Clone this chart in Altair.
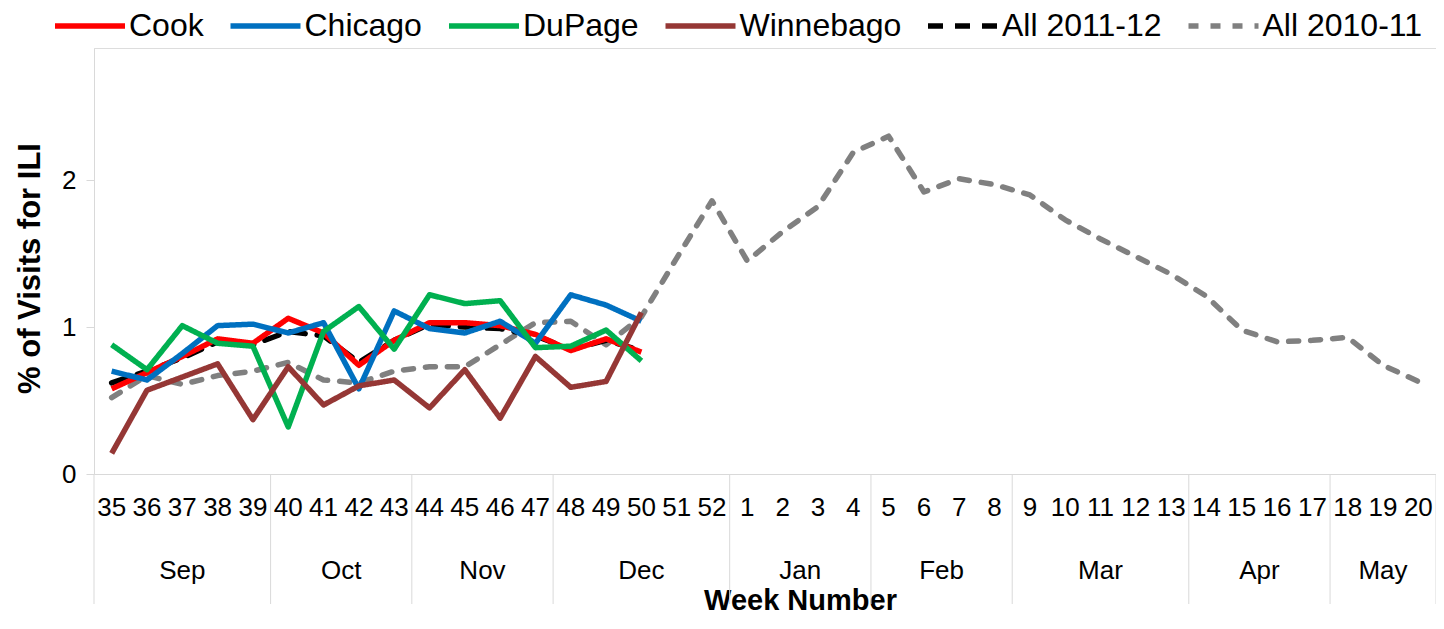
import altair as alt
import pandas as pd

# ---------------- data ----------------
weeks = ["35", "36", "37", "38", "39", "40", "41", "42", "43", "44", "45", "46", "47",
         "48", "49", "50", "51", "52", "1", "2", "3", "4", "5", "6", "7", "8", "9",
         "10", "11", "12", "13", "14", "15", "16", "17", "18", "19", "20"]
months = ["Sep", "Oct", "Nov", "Dec", "Jan", "Feb", "Mar", "Apr", "May"]
month_weeks = [5, 4, 4, 5, 4, 4, 5, 4, 3]

series_names = ["Cook", "Chicago", "DuPage", "Winnebago", "All 2011-12", "All 2010-11"]
series_colors = ["#FF0000", "#0070C0", "#00B050", "#953735", "#000000", "#808080"]

cook = [0.58, 0.69, 0.80, 0.92, 0.89, 1.06, 0.96, 0.74, 0.91, 1.03, 1.03, 1.01, 0.95, 0.84, 0.92, 0.83]
chicago = [0.70, 0.64, 0.82, 1.01, 1.02, 0.96, 1.03, 0.58, 1.11, 0.99, 0.96, 1.04, 0.89, 1.22, 1.15, 1.04]
dupage = [0.88, 0.71, 1.01, 0.89, 0.87, 0.32, 0.97, 1.14, 0.85, 1.22, 1.16, 1.18, 0.86, 0.87, 0.98, 0.77]
winnebago = [0.14, 0.57, 0.66, 0.75, 0.37, 0.73, 0.47, 0.60, 0.64, 0.45, 0.71, 0.38, 0.80, 0.59, 0.63, 1.10]
all_2011_12 = [0.62, 0.70, 0.79, 0.90, 0.88, 0.97, 0.94, 0.76, 0.91, 1.02, 1.00, 0.99, 0.94, 0.85, 0.91, 0.84]
all_2010_11 = [0.52, 0.67, 0.61, 0.67, 0.70, 0.76, 0.64, 0.62, 0.70, 0.73, 0.73, 0.88, 1.03, 1.04, 0.88, 1.07,
               1.47, 1.86, 1.45, 1.65, 1.82, 2.19, 2.30, 1.92, 2.01, 1.97, 1.90, 1.73, 1.60, 1.48, 1.36,
               1.21, 0.98, 0.90, 0.91, 0.93, 0.74, 0.63]

series_values = {
    "Cook": cook,
    "Chicago": chicago,
    "DuPage": dupage,
    "Winnebago": winnebago,
    "All 2011-12": all_2011_12,
    "All 2010-11": all_2010_11,
}

# ---------------- tables ----------------
rows = []
for name, vals in series_values.items():
    for i, v in enumerate(vals):
        rows.append({"series": name, "idx": i, "week": weeks[i], "value": v})
df = pd.DataFrame(rows)

wdf = pd.DataFrame({"idx": list(range(len(weeks))), "week": weeks})

mrows = []
bounds = []
start = 0
for m, n in zip(months, month_weeks):
    mrows.append({"month": m, "center": start + (n - 1) / 2})
    bounds.append(start - 0.5)
    start += n
bounds.append(start - 0.5)
mdf = pd.DataFrame(mrows)
bdf = pd.DataFrame({"b": bounds})

# ---------------- styling ----------------
W, H = 1342, 426
FONT = "Liberation Sans"
GRID = "#d9d9d9"
dash_map = {"Cook": [1, 0], "Chicago": [1, 0], "DuPage": [1, 0], "Winnebago": [1, 0],
            "All 2011-12": [15, 12], "All 2010-11": [10, 12]}

x_scale = alt.Scale(domain=[-0.5, len(weeks) - 0.5], nice=False, zero=False)
x_axis = alt.Axis(
    values=list(range(len(weeks))), labels=False, ticks=False, grid=False,
    domainColor=GRID, domainWidth=1,
    title="Week Number", titleFont=FONT, titleFontSize=29, titleFontWeight="bold",
    titleColor="black", titlePadding=112, titleX=706, titleAlign="center",
)


def xenc(field):
    return alt.X(field, scale=x_scale, axis=x_axis, title="Week Number")


y_main = alt.Y(
    "value:Q",
    scale=alt.Scale(domain=[0, 2.9], nice=False),
    axis=alt.Axis(
        values=[0, 1, 2], tickSize=8, tickColor=GRID, domainColor=GRID, grid=False,
        labelFontSize=26, labelFont=FONT, labelColor="black", labelPadding=10,
        title="% of Visits for ILI", titleFont=FONT, titleFontSize=31, titleFontWeight="bold",
        titleColor="black", titleX=-64, titleY=220, titleAlign="center", titleBaseline="middle",
    ),
)

legend = alt.Legend(
    orient="none", legendX=-42, legendY=-60, direction="horizontal", columns=6, title=None,
    symbolType="stroke", symbolSize=4900, symbolStrokeWidth=5.5, labelFontSize=32, labelFont=FONT,
    labelColor="black", labelOffset=1, columnPadding=15.5, padding=0, labelLimit=0,
)
color_enc = alt.Color("series:N", scale=alt.Scale(domain=series_names, range=series_colors), legend=legend)
dash_enc = alt.StrokeDash("series:N",
                          scale=alt.Scale(domain=series_names, range=[dash_map[s] for s in series_names]),
                          legend=legend)

base = alt.Chart(df)
draw_order = ["All 2010-11", "All 2011-12", "Cook", "Chicago", "DuPage", "Winnebago"]
line_layers = []
for name in draw_order:
    dashed = name.startswith("All")
    line_layers.append(
        base.transform_filter(alt.datum.series == name)
        .mark_line(strokeWidth=5.5, strokeCap="round" if dashed else "butt", strokeJoin="round")
        .encode(x=xenc("idx:Q"), y=y_main, color=color_enc, strokeDash=dash_enc)
    )

separators = alt.Chart(bdf).mark_rule(color=GRID, strokeWidth=1).encode(
    x=xenc("b:Q"), y=alt.value(H), y2=alt.value(H + 130)
)
week_text = alt.Chart(wdf).mark_text(font=FONT, fontSize=26, color="black", baseline="middle",
                                     align="center").encode(
    x=xenc("idx:Q"), y=alt.value(H + 34), text="week:N"
)
month_text = alt.Chart(mdf).mark_text(font=FONT, fontSize=26, color="black", baseline="middle",
                                      align="center").encode(
    x=xenc("center:Q"), y=alt.value(H + 97), text="month:N"
)

chart = alt.layer(*line_layers, separators, week_text, month_text).properties(
    width=W, height=H,
    padding={"left": 86, "top": 40, "right": 0, "bottom": 145},
    autosize=alt.AutoSizeParams(type="none"),
).configure_view(stroke=None).configure(background="white")

chart.save("out.html", embed_options={"renderer": "svg", "actions": False})
